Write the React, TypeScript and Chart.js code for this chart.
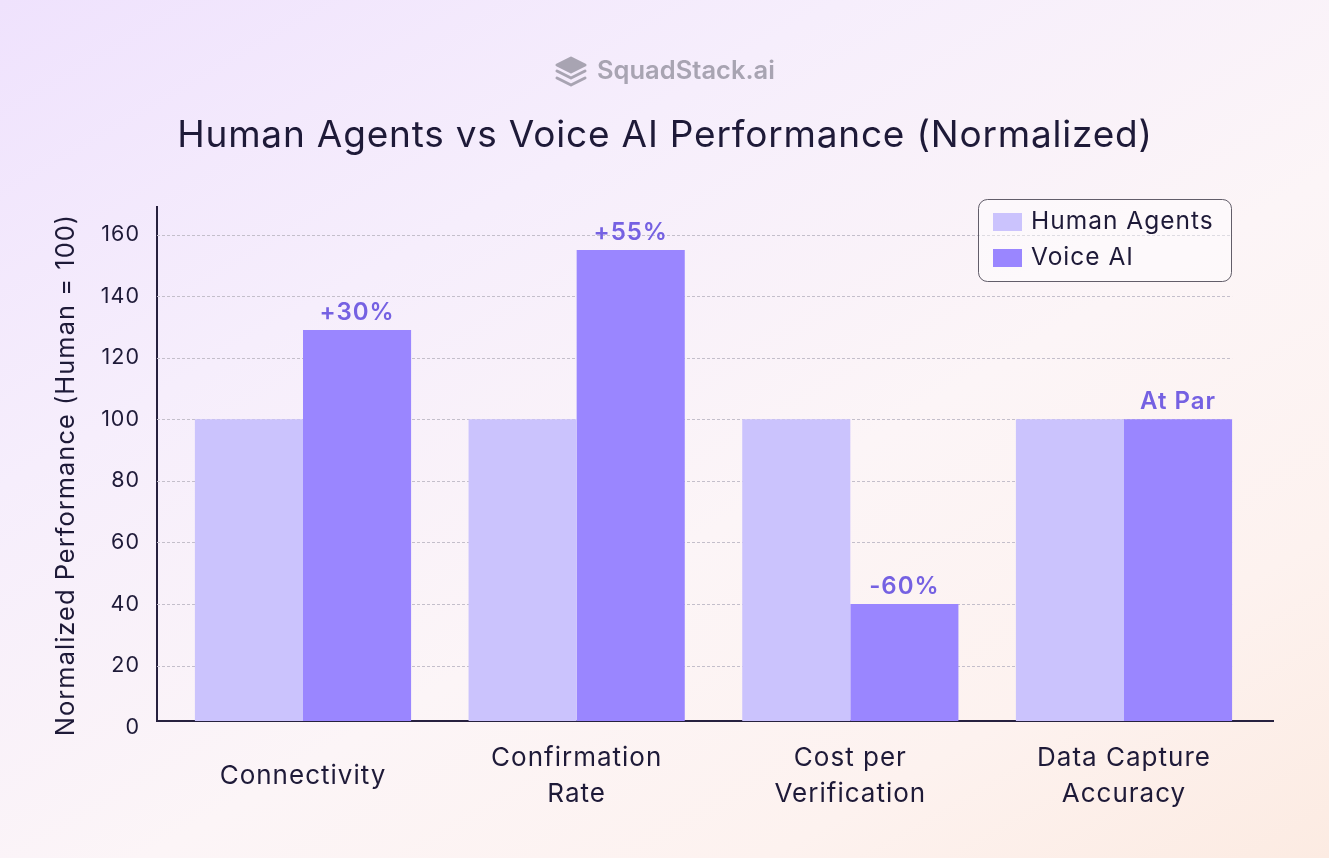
import React, { useEffect, useRef } from 'react';
import { Chart, registerables } from 'chart.js';

Chart.register(...registerables);

// ---------- data ----------
const categories = ['Connectivity', 'Confirmation Rate', 'Cost per Verification', 'Data Capture Accuracy'];
const categoryLines = [['Connectivity'], ['Confirmation', 'Rate'], ['Cost per', 'Verification'], ['Data Capture', 'Accuracy']];
const seriesNames = ['Human Agents', 'Voice AI'];
const humanAgents = [100, 100, 100, 100];
const voiceAI = [129, 155, 40, 100];
const changeLabels = ['+30%', '+55%', '-60%', 'At Par'];
const yTicks = [0, 20, 40, 60, 80, 100, 120, 140, 160];
const titleText = 'Human Agents vs Voice AI Performance (Normalized)';
const yTitleText = 'Normalized Performance (Human = 100)';
const brandText = 'SquadStack.ai';

// ---------- style ----------
const FONT = 'Inter, "Noto Sans", "DejaVu Sans", sans-serif';
const TEXT = '#1e1a38';
const AXIS = '#27213f';
const HUMAN_COLOR = '#cbc3fd';
const VOICE_COLOR = '#9a86ff';
const LABEL_COLOR = '#7561e2';
const GRID = '#c4bfcb';
const BRAND = '#a8a4b2';

const spacingPlugin = {
  id: 'spacing',
  beforeDraw(chart: any) {
    (chart.ctx as any).letterSpacing = '1px';
  },
};

const headerPlugin = {
  id: 'header',
  afterDraw(chart: any) {
    const ctx = chart.ctx as any;
    ctx.save();
    // brand icon (stacked layers)
    ctx.strokeStyle = BRAND;
    ctx.fillStyle = BRAND;
    ctx.lineWidth = 3;
    ctx.lineJoin = 'round';
    ctx.lineCap = 'round';
    const cx = 571, top = 58;
    ctx.beginPath();
    ctx.moveTo(cx, top);
    ctx.lineTo(cx + 14, top + 7);
    ctx.lineTo(cx, top + 14);
    ctx.lineTo(cx - 14, top + 7);
    ctx.closePath();
    ctx.fill();
    ctx.stroke();
    for (const dy of [13, 20]) {
      ctx.beginPath();
      ctx.moveTo(cx - 14, top + dy);
      ctx.lineTo(cx, top + dy + 7);
      ctx.lineTo(cx + 14, top + dy);
      ctx.stroke();
    }
    ctx.letterSpacing = '0px';
    ctx.font = `600 25.5px ${FONT}`;
    ctx.textBaseline = 'middle';
    ctx.textAlign = 'left';
    ctx.fillText(brandText, 597, 71);

    // title
    ctx.letterSpacing = '0.8px';
    ctx.fillStyle = TEXT;
    ctx.font = `400 37px ${FONT}`;
    ctx.textAlign = 'center';
    ctx.fillText(titleText, 665, 136);

    // y-axis title
    ctx.letterSpacing = '1px';
    ctx.font = `400 25.5px ${FONT}`;
    ctx.translate(66, 475);
    ctx.rotate(-Math.PI / 2);
    ctx.textAlign = 'center';
    ctx.textBaseline = 'middle';
    ctx.fillText(yTitleText, 0, 0);
    ctx.restore();
  },
};

const gridPlugin = {
  id: 'dashGrid',
  beforeDatasetsDraw(chart: any) {
    const ctx = chart.ctx as CanvasRenderingContext2D;
    const y = chart.scales.y;
    const meta = chart.getDatasetMeta(1);
    const last = meta.data[meta.data.length - 1];
    const right = last.x + last.width / 2;
    const left = chart.chartArea.left;
    ctx.save();
    ctx.strokeStyle = GRID;
    ctx.lineWidth = 1;
    ctx.setLineDash([3, 2]);
    for (const v of yTicks) {
      if (v === 0) continue;
      const py = Math.round(y.getPixelForValue(v)) + 0.5;
      ctx.beginPath();
      ctx.moveTo(left, py);
      ctx.lineTo(right, py);
      ctx.stroke();
    }
    ctx.restore();
  },
};

const valueLabelPlugin = {
  id: 'valueLabels',
  afterDatasetsDraw(chart: any) {
    const ctx = chart.ctx as any;
    const meta = chart.getDatasetMeta(1);
    ctx.save();
    ctx.letterSpacing = '1px';
    ctx.fillStyle = LABEL_COLOR;
    ctx.font = `600 24px ${FONT}`;
    ctx.textAlign = 'center';
    ctx.textBaseline = 'alphabetic';
    meta.data.forEach((bar: any, i: number) => {
      ctx.fillText(changeLabels[i], bar.x, bar.y - 10);
    });
    ctx.restore();
  },
};

const legendPlugin = {
  id: 'boxLegend',
  afterDraw(chart: any) {
    const ctx = chart.ctx as any;
    const x = 978, y = 199, w = 253, h = 82, r = 9;
    ctx.save();
    ctx.beginPath();
    ctx.roundRect(x + 0.5, y + 0.5, w, h, r);
    ctx.fillStyle = 'rgba(255,255,255,0.45)';
    ctx.fill();
    ctx.strokeStyle = 'rgba(70,66,80,0.85)';
    ctx.lineWidth = 1;
    ctx.stroke();
    ctx.letterSpacing = '1px';
    ctx.font = `400 24.5px ${FONT}`;
    ctx.textBaseline = 'middle';
    ctx.textAlign = 'left';
    chart.data.datasets.forEach((ds: any, i: number) => {
      const cy = y + 23 + i * 36;
      ctx.fillStyle = ds.backgroundColor;
      ctx.fillRect(x + 15, cy - 9, 29, 18);
      ctx.fillStyle = TEXT;
      ctx.fillText(ds.label, x + 53, cy);
    });
    ctx.restore();
  },
};

export default function App() {
  const ref = useRef<HTMLCanvasElement>(null);
  useEffect(() => {
    document.body.style.margin = '0';
    const canvas = ref.current!;
    const chart = new Chart(canvas, {
      type: 'bar',
      data: {
        datasets: [
          {
            label: seriesNames[0],
            data: humanAgents.map((v, i) => ({ x: i, y: v })),
            backgroundColor: HUMAN_COLOR,
            borderWidth: 0,
            categoryPercentage: 0.79,
            barPercentage: 1,
          },
          {
            label: seriesNames[1],
            data: voiceAI.map((v, i) => ({ x: i, y: v })),
            backgroundColor: VOICE_COLOR,
            borderWidth: 0,
            categoryPercentage: 0.79,
            barPercentage: 1,
          },
        ],
      } as any,
      options: {
        animation: false,
        responsive: true,
        maintainAspectRatio: false,
        layout: { padding: { left: 0, right: 56, top: 207, bottom: 0 } },
        plugins: {
          legend: { display: false },
          tooltip: { enabled: false },
          title: { display: false },
        },
        scales: {
          x: {
            type: 'linear',
            min: -0.5335,
            max: 3.5445,
            offset: false,
            afterBuildTicks: (s: any) => {
              s.ticks = categories.map((_, i) => ({ value: i }));
            },
            afterFit: (s: any) => {
              s.height = 137;
            },
            grid: { display: false, drawTicks: false },
            border: { display: true, color: AXIS, width: 2 },
            ticks: {
              autoSkip: false,
              maxRotation: 0,
              minRotation: 0,
              padding: 37.5,
              crossAlign: 'center',
              color: TEXT,
              font: { family: FONT, size: 26, lineHeight: 1.385 },
              callback: (v: any) => categoryLines[v] ?? '',
            },
          },
          y: {
            min: 2,
            max: 169,
            afterBuildTicks: (s: any) => {
              s.ticks = yTicks.map((v) => ({ value: v }));
            },
            afterFit: (s: any) => {
              s.width = 157;
            },
            grid: { color: 'transparent', drawTicks: false },
            border: { display: true, color: AXIS, width: 2 },
            ticks: {
              autoSkip: false,
              padding: 17,
              color: TEXT,
              font: { family: FONT, size: 21.5 },
            },
          },
        },
      } as any,
      plugins: [spacingPlugin, gridPlugin, valueLabelPlugin, legendPlugin, headerPlugin],
    });
    return () => chart.destroy();
  }, []);

  return (
    <div
      style={{
        position: 'absolute',
        left: 0,
        top: 0,
        width: 1329,
        height: 858,
        overflow: 'hidden',
        background:
          'linear-gradient(150deg, #efe2fd 0%, #f6eefc 30%, #fcf5f7 58%, #fdf2ef 80%, #fcebe2 100%)',
      }}
    >
      <canvas ref={ref} width={1329} height={858} />
    </div>
  );
}
